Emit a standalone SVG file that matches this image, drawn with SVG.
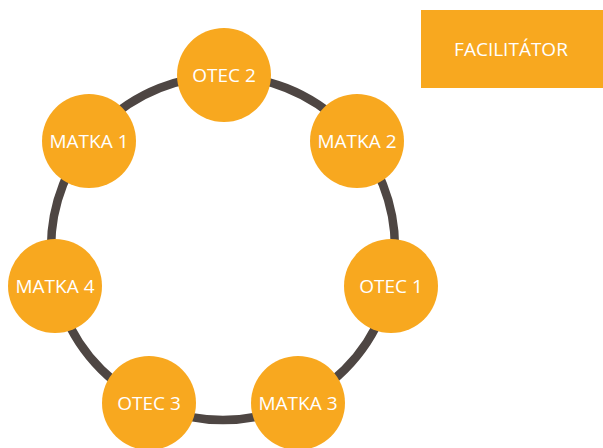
<svg xmlns="http://www.w3.org/2000/svg" width="603" height="448" viewBox="0 0 603 448">
<style>
.n{fill:#F8A81F}
.t{fill:#ffffff;font-family:"Open Sans","Liberation Sans",sans-serif;font-size:19px;text-anchor:middle}
.ring{fill:none;stroke:#4E4643;stroke-width:8.5}
</style>
<rect width="603" height="448" fill="#ffffff"/>
<g id="connectors">
<circle class="ring" cx="223" cy="248" r="172"/>
</g>
<g id="otec2"><circle class="n" cx="224" cy="75" r="47"/><text class="t" x="224" y="82">OTEC 2</text></g>
<g id="matka2"><circle class="n" cx="357" cy="141" r="47"/><text class="t" x="357" y="148">MATKA 2</text></g>
<g id="otec1"><circle class="n" cx="391" cy="286" r="47"/><text class="t" x="391" y="293">OTEC 1</text></g>
<g id="matka3"><circle class="n" cx="298" cy="403" r="47"/><text class="t" x="298" y="410">MATKA 3</text></g>
<g id="otec3"><circle class="n" cx="149" cy="403" r="47"/><text class="t" x="149" y="410">OTEC 3</text></g>
<g id="matka4"><circle class="n" cx="55" cy="286" r="47"/><text class="t" x="55" y="293">MATKA 4</text></g>
<g id="matka1"><circle class="n" cx="89" cy="141" r="47"/><text class="t" x="89" y="148">MATKA 1</text></g>
<g id="facilitator"><rect class="n" x="421" y="10" width="182" height="78"/><text class="t" x="511" y="56">FACILITÁTOR</text></g>
</svg>
